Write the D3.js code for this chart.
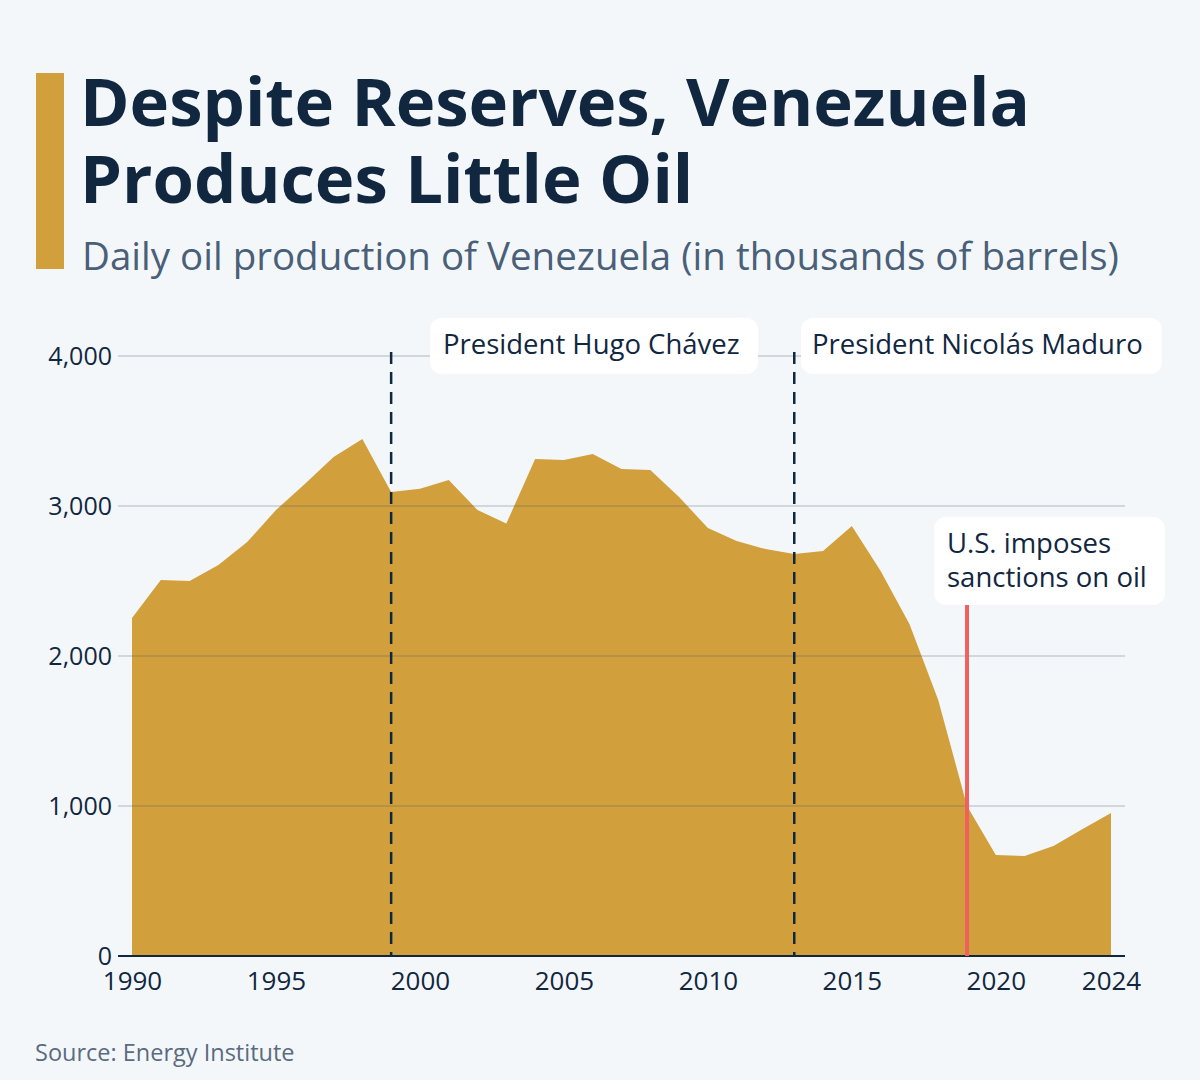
<!DOCTYPE html>
<html><head><meta charset="utf-8">
<script src="https://cdn.jsdelivr.net/npm/d3@7"></script>
<style>body{margin:0;background:#f4f7fa;font-family:"Open Sans",sans-serif}</style>
</head><body>
<svg id="chart" width="1200" height="1080"></svg>
<script>
var years = d3.range(1990, 2025);
var production = [2253, 2507, 2500, 2607, 2760, 2973, 3147, 3327, 3447, 3093,
                  3115, 3173, 2973, 2883, 3313, 3307, 3347, 3247, 3240, 3060,
                  2853, 2767, 2713, 2680, 2700, 2867, 2567, 2213, 1707, 1000,
                  673, 667, 733, 845, 953];
var yTicks = [0, 1000, 2000, 3000, 4000];
var xTicks = [1990, 1995, 2000, 2005, 2010, 2015, 2020, 2024];
var events = [
  {year: 1999, lines: ["President Hugo Chávez"], type: "dash"},
  {year: 2013, lines: ["President Nicolás Maduro"], type: "dash"},
  {year: 2019, lines: ["U.S. imposes", "sanctions on oil"], type: "red"}
];

var svg = d3.select("#chart");
svg.append("rect").attr("width", 1200).attr("height", 1080).attr("fill", "#f4f7fa");

// header
svg.append("rect").attr("x", 36).attr("y", 73).attr("width", 28).attr("height", 196).attr("fill", "#d1a03c");
var title = svg.append("text").attr("x", 82).attr("fill", "#11273f")
    .style("font-size", "67px").style("font-weight", 700).style("font-family", "'Open Sans'");
title.append("tspan").attr("x", 80).attr("y", 126).text("Despite Reserves, Venezuela");
title.append("tspan").attr("x", 80).attr("y", 203).text("Produces Little Oil");
svg.append("text").attr("x", 82).attr("y", 270).attr("fill", "#4a5f78")
    .style("font-size", "38.5px").text("Daily oil production of Venezuela (in thousands of barrels)");

var x = d3.scaleLinear().domain([1990, 2024]).range([132, 1111]);
var y = d3.scaleLinear().domain([0, 4000]).range([956, 356]);

var area = d3.area().x(function(d, i) { return x(years[i]); }).y0(y(0)).y1(function(d) { return y(d); });
svg.append("path").datum(production).attr("d", area).attr("fill", "#d1a03c");

// gridlines over the area
svg.selectAll("line.grid").data(yTicks.slice(1)).enter().append("line")
    .attr("x1", 118).attr("x2", 1125)
    .attr("y1", function(d) { return y(d); }).attr("y2", function(d) { return y(d); })
    .attr("stroke", "#4a5568").attr("stroke-opacity", 0.4).attr("stroke-width", 1);

var yAxis = svg.append("g").attr("transform", "translate(114,0)")
    .call(d3.axisLeft(y).tickValues(yTicks).tickSize(0).tickPadding(2).tickFormat(d3.format(",")));
yAxis.select(".domain").remove();
yAxis.selectAll("text").attr("fill", "#11273f").style("font-size", "25px").style("font-family", "'Open Sans'");

svg.append("line").attr("x1", 118).attr("x2", 1125).attr("y1", 956).attr("y2", 956)
    .attr("stroke", "#11273f").attr("stroke-width", 2);
var xAxis = svg.append("g").attr("transform", "translate(0,956)")
    .call(d3.axisBottom(x).tickValues(xTicks).tickSize(0).tickPadding(16).tickFormat(d3.format("d")));
xAxis.select(".domain").remove();
xAxis.selectAll("text").attr("fill", "#11273f").style("font-size", "26px").style("font-family", "'Open Sans'");

// event markers
events.forEach(function(e) {
  var ex = x(e.year);
  if (e.type === "dash") {
    svg.append("line").attr("x1", ex).attr("x2", ex).attr("y1", 352).attr("y2", 956)
        .attr("stroke", "#11273f").attr("stroke-width", 2.5).attr("stroke-dasharray", "12,8");
  } else {
    svg.append("line").attr("x1", ex).attr("x2", ex).attr("y1", 605).attr("y2", 956)
        .attr("stroke", "#f0605f").attr("stroke-width", 4);
  }
});

function label(lines, bx, by, bw, bh, tx, ty) {
  svg.append("rect").attr("x", bx).attr("y", by).attr("width", bw).attr("height", bh)
      .attr("rx", 12).attr("fill", "#ffffff");
  lines.forEach(function(l, i) {
    svg.append("text").attr("x", tx).attr("y", ty + i * 34).attr("fill", "#11273f")
        .style("font-size", "27.5px").text(l);
  });
}
label(events[0].lines, 430, 318, 328, 56, 443, 354);
label(events[1].lines, 801, 318, 361, 56, 812, 354);
label(events[2].lines, 934, 517, 231, 88, 947, 553);

svg.append("text").attr("x", 35).attr("y", 1061).attr("fill", "#5a6b80")
    .style("font-size", "23.5px").text("Source: Energy Institute");
</script>
</body></html>
